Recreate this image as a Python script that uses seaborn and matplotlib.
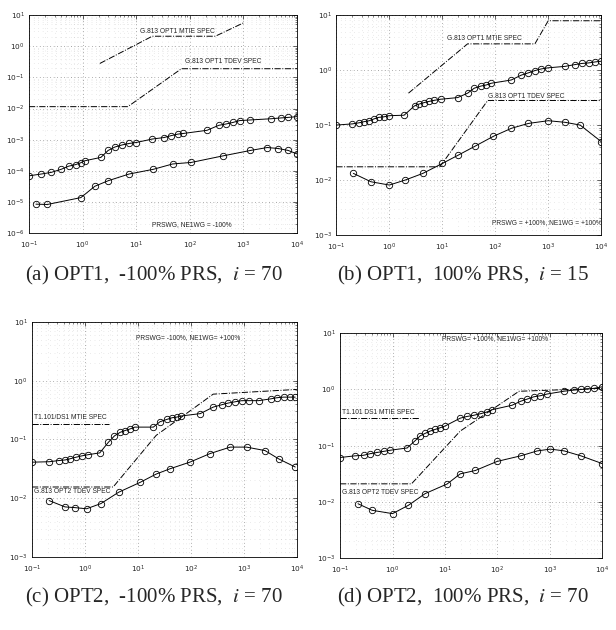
import matplotlib
matplotlib.use("Agg")
import matplotlib.pyplot as plt
import matplotlib.ticker as mticker
import seaborn as sns
import pandas as pd

# ---------------- data ----------------
# (a) OPT1, -100% PRS
a_up_tau = [0.1, 0.17, 0.26, 0.4, 0.55, 0.74, 0.93, 1.1, 2.2, 3, 4, 5.5, 7.5, 10, 20, 33, 45, 60, 75,
            210, 350, 480, 650, 850, 1350, 3300, 5100, 6900, 10000]
a_up_val = [6.9e-5, 7.9e-5, 8.9e-5, 1.12e-4, 1.41e-4, 1.58e-4, 1.82e-4, 2.1e-4, 2.7e-4, 4.5e-4, 5.8e-4,
            6.8e-4, 7.6e-4, 8.1e-4, 1.05e-3, 1.17e-3, 1.35e-3, 1.51e-3, 1.58e-3, 2.0e-3, 2.9e-3, 3.2e-3,
            3.6e-3, 4.1e-3, 4.3e-3, 4.7e-3, 5.0e-3, 5.2e-3, 5.5e-3]
a_lo_tau = [0.135, 0.22, 0.93, 1.7, 3.0, 7.4, 21, 48, 107, 410, 1350, 2800, 4500, 6900, 10000]
a_lo_val = [8.5e-6, 8.3e-6, 1.38e-5, 3.2e-5, 4.8e-5, 7.9e-5, 1.12e-4, 1.66e-4, 1.86e-4, 3.0e-4,
            4.5e-4, 5.6e-4, 5.2e-4, 4.5e-4, 3.5e-4]
a_mtie_tau = [2.1, 20, 300, 1000]
a_mtie_val = [0.28, 2.1, 2.1, 5.6]
a_tdev_tau = [0.1, 7, 70, 10000]
a_tdev_val = [0.0115, 0.0115, 0.19, 0.19]

# (b) OPT1, 100% PRS
b_up_tau = [0.1, 0.2, 0.27, 0.33, 0.42, 0.51, 0.63, 0.79, 0.98, 1.9, 3, 3.6, 4.6, 5.6, 7.1, 9.3, 19.5,
            30, 40, 54, 68, 83, 200, 310, 420, 560, 740, 1000, 2100, 3200, 4300, 5800, 7800, 10000]
b_up_val = [0.1, 0.105, 0.11, 0.115, 0.12, 0.129, 0.138, 0.141, 0.148, 0.151, 0.224, 0.24, 0.257, 0.269,
            0.282, 0.295, 0.316, 0.38, 0.468, 0.513, 0.537, 0.575, 0.66, 0.81, 0.89, 0.98, 1.05, 1.1,
            1.17, 1.26, 1.32, 1.35, 1.41, 1.45]
b_lo_tau = [0.21, 0.45, 1.0, 2.0, 4.3, 10, 19.5, 41, 91, 200, 420, 1000, 2100, 4000, 10000]
b_lo_val = [0.0132, 0.0093, 0.0081, 0.01, 0.0132, 0.02, 0.028, 0.041, 0.062, 0.087, 0.107, 0.12,
            0.112, 0.1, 0.05]
b_mtie_tau = [2.3, 30, 560, 1000, 10000]
b_mtie_val = [0.38, 3.0, 3.0, 7.9, 7.9]
b_tdev_tau = [0.1, 9, 72, 10000]
b_tdev_val = [0.0174, 0.0174, 0.28, 0.28]

# (c) OPT2, -100% PRS
c_up_tau = [0.1, 0.21, 0.32, 0.42, 0.52, 0.69, 0.87, 1.15, 1.9, 2.75, 3.6, 4.6, 5.6, 7.1, 8.7, 19.5,
            26, 35, 44, 54, 66, 150, 263, 380, 510, 680, 910, 1230, 1900, 3200, 4200, 5600, 7400, 9300]
c_up_val = [0.041, 0.0417, 0.0437, 0.0447, 0.0468, 0.05, 0.0525, 0.055, 0.059, 0.089, 0.115, 0.132,
            0.141, 0.151, 0.162, 0.162, 0.2, 0.219, 0.234, 0.24, 0.251, 0.275, 0.355, 0.389, 0.417,
            0.437, 0.457, 0.457, 0.457, 0.49, 0.513, 0.525, 0.525, 0.525]
c_lo_tau = [0.21, 0.42, 0.65, 1.07, 2.0, 4.3, 11, 22, 40, 95, 230, 550, 1120, 2500, 4500, 9300]
c_lo_val = [0.0091, 0.0071, 0.0069, 0.0066, 0.0081, 0.0126, 0.0186, 0.0257, 0.0316, 0.041, 0.0575,
            0.074, 0.074, 0.0646, 0.0468, 0.0339]
c_mtie_tau = [0.1, 2.8]
c_mtie_val = [0.186, 0.186]
c_tdev_tau = [0.1, 3.4, 22, 263, 10000]
c_tdev_val = [0.0155, 0.0155, 0.117, 0.59, 0.71]

# (d) OPT2, 100% PRS
d_up_tau = [0.1, 0.19, 0.28, 0.38, 0.51, 0.68, 0.91, 1.9, 2.7, 3.4, 4.2, 5.2, 6.5, 8.1, 10, 19.5, 26,
            35, 48, 63, 79, 190, 275, 370, 490, 660, 890, 1860, 2900, 3900, 5100, 6900, 10000]
d_up_val = [0.0617, 0.066, 0.0676, 0.0724, 0.0759, 0.0794, 0.0832, 0.0912, 0.123, 0.151, 0.166, 0.182,
            0.195, 0.209, 0.224, 0.309, 0.331, 0.347, 0.372, 0.398, 0.437, 0.525, 0.617, 0.676, 0.741,
            0.776, 0.832, 0.933, 0.977, 1.0, 1.02, 1.05, 1.12]
d_lo_tau = [0.22, 0.41, 1.0, 2.0, 4.2, 11, 19.5, 38, 98, 275, 575, 1020, 1860, 3900, 10000]
d_lo_val = [0.0093, 0.0071, 0.0062, 0.0087, 0.0141, 0.0209, 0.0316, 0.0363, 0.0525, 0.066, 0.081,
            0.087, 0.081, 0.066, 0.048]
d_mtie_tau = [0.1, 3.2]
d_mtie_val = [0.316, 0.316]
d_tdev_tau = [0.1, 2.3, 19.5, 257, 10000]
d_tdev_val = [0.021, 0.021, 0.182, 0.93, 1.05]

captions = ["(a) OPT1,  -100% PRS,  $\\mathit{i}$ = 70", "(b) OPT1,  100% PRS,  $\\mathit{i}$ = 15",
            "(c) OPT2,  -100% PRS,  $\\mathit{i}$ = 70", "(d) OPT2,  100% PRS,  $\\mathit{i}$ = 70"]

# ---------------- style ----------------
sns.set_style("white")
plt.rcParams.update({
    "font.family": ["DejaVu Sans"],
    "mathtext.fontset": "stix",
    "xtick.direction": "in", "ytick.direction": "in",
    "xtick.top": True, "ytick.right": True,
    "xtick.major.size": 3, "ytick.major.size": 3,
    "xtick.minor.size": 1.5, "ytick.minor.size": 1.5,
    "xtick.major.width": 0.5, "ytick.major.width": 0.5,
    "xtick.minor.width": 0.4, "ytick.minor.width": 0.4,
    "axes.linewidth": 0.6, "axes.edgecolor": "black",
})

fig = plt.figure(figsize=(6.16, 6.30), dpi=100)
positions = [
    [0.047, 0.630, 0.435, 0.346],
    [0.546, 0.627, 0.430, 0.349],
    [0.052, 0.116, 0.430, 0.373],
    [0.552, 0.114, 0.426, 0.357],
]
ylims = [(1e-6, 10), (1e-3, 10), (1e-3, 10), (1e-3, 10)]

panels = [
    (a_up_tau, a_up_val, a_lo_tau, a_lo_val, a_mtie_tau, a_mtie_val, a_tdev_tau, a_tdev_val),
    (b_up_tau, b_up_val, b_lo_tau, b_lo_val, b_mtie_tau, b_mtie_val, b_tdev_tau, b_tdev_val),
    (c_up_tau, c_up_val, c_lo_tau, c_lo_val, c_mtie_tau, c_mtie_val, c_tdev_tau, c_tdev_val),
    (d_up_tau, d_up_val, d_lo_tau, d_lo_val, d_mtie_tau, d_mtie_val, d_tdev_tau, d_tdev_val),
]

texts = [
    [(59, 2.9, "G.813 OPT1 MTIE SPEC", "center"), (427, 0.32, "G.813 OPT1 TDEV SPEC", "center"),
     (108, 1.9e-6, "PRSWG, NE1WG = -100%", "center")],
    [(63, 3.8, "G.813 OPT1 MTIE SPEC", "center"), (390, 0.33, "G.813 OPT1 TDEV SPEC", "center"),
     (950, 1.66e-3, "PRSWG = +100%, NE1WG = +100%", "center")],
    [(89, 5.5, "PRSWG= -100%, NE1WG= +100%", "center"), (0.11, 0.234, "T1.101/DS1 MTIE SPEC", "left"),
     (0.11, 0.0128, "G.813 OPT2 TDEV SPEC", "left")],
    [(89, 8.0, "PRSWG= +100%, NE1WG= +100%", "center"), (0.11, 0.39, "T1.101 DS1 MTIE SPEC", "left"),
     (0.11, 0.0150, "G.813 OPT2 TDEV SPEC", "left")],
]

for k, (pos, yl, pdata, tx) in enumerate(zip(positions, ylims, panels, texts)):
    ax = fig.add_axes(pos)
    up_t, up_v, lo_t, lo_v, m_t, m_v, t_t, t_v = pdata
    for (xs, ys) in [(m_t, m_v), (t_t, t_v)]:
        df = pd.DataFrame({"tau": xs, "val": ys})
        sns.lineplot(data=df, x="tau", y="val", ax=ax, color="black", lw=0.7,
                     linestyle="-.", sort=False, estimator=None)
    for (xs, ys) in [(up_t, up_v), (lo_t, lo_v)]:
        df = pd.DataFrame({"tau": xs, "val": ys})
        sns.lineplot(data=df, x="tau", y="val", ax=ax, color="black", lw=0.7,
                     marker="o", markersize=4.6, markerfacecolor="none",
                     markeredgecolor="black", markeredgewidth=0.6, sort=False, estimator=None)
    ax.set_xscale("log")
    ax.set_yscale("log")
    ax.set_xlim(0.1, 1e4)
    ax.set_ylim(*yl)
    ax.xaxis.set_major_locator(mticker.LogLocator(base=10, numticks=20))
    ax.yaxis.set_major_locator(mticker.LogLocator(base=10, numticks=20))
    ax.xaxis.set_minor_locator(mticker.LogLocator(base=10, subs=range(2, 10), numticks=20))
    ax.yaxis.set_minor_locator(mticker.LogLocator(base=10, subs=range(2, 10), numticks=20))
    ax.xaxis.set_minor_formatter(mticker.NullFormatter())
    ax.yaxis.set_minor_formatter(mticker.NullFormatter())
    ax.grid(True, which="major", linestyle=(0, (1, 4)), color="black", lw=0.5, alpha=0.6)
    ax.grid(True, which="minor", linestyle=(0, (1, 7)), color="black", lw=0.4, alpha=0.25)
    ax.tick_params(axis="x", labelsize=5.3, pad=5)
    ax.tick_params(axis="y", labelsize=5.3, pad=3)
    ax.set_xlabel("")
    ax.set_ylabel("")
    for (x, y, s, ha) in tx:
        ax.text(x, y, s, fontsize=4.8, ha=ha, va="center",
                family=["Liberation Sans Narrow", "Liberation Sans", "DejaVu Sans"])

cap_pos = [(0.250, 0.562), (0.752, 0.562), (0.250, 0.051), (0.752, 0.051)]
for (x, y), s in zip(cap_pos, captions):
    fig.text(x, y, s, fontsize=15, ha="center", va="center",
             family=["Liberation Serif", "DejaVu Serif"])

fig.savefig("out.png", dpi=100, facecolor="white")
